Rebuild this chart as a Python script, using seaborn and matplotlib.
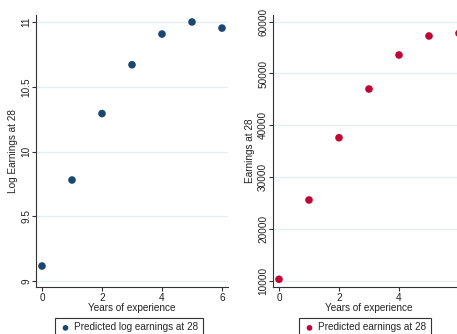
import matplotlib
matplotlib.use("Agg")
import matplotlib.pyplot as plt
import seaborn as sns
import pandas as pd

# Predicted values by years of experience
years = [0, 1, 2, 3, 4, 5, 6]
log_earnings = [9.116, 9.78, 10.293, 10.67, 10.907, 11.0, 10.953]
earnings = [10270, 25580, 37600, 47000, 53570, 57240, 57760]

x_ticks = [0, 2, 4, 6]
log_ticks = [9, 9.5, 10, 10.5, 11]
log_tick_labels = ["9", "9.5", "10", "10.5", "11"]
earn_ticks = [10000, 20000, 30000, 40000, 50000, 60000]
earn_tick_labels = ["10000", "20000", "30000", "40000", "50000", "60000"]

sns.set_theme(style="white")
plt.rcParams["font.family"] = ["Liberation Sans", "DejaVu Sans"]

W, H = 457, 334
FS = 7.2
fig = plt.figure(figsize=(W / 100, H / 100), dpi=100)
fig.patch.set_facecolor("white")

df = pd.DataFrame({"years": years, "log": log_earnings, "earn": earnings})


def px_axes(left, top, right, bottom):
    return fig.add_axes([left / W, 1 - bottom / H, (right - left) / W, (bottom - top) / H])


def style(ax, yticks, ylabels, ylim, ylabel):
    ax.set_xlim(-0.2, 6.2)
    ax.set_ylim(*ylim)
    ax.set_xticks(x_ticks)
    ax.set_xticklabels([str(t) for t in x_ticks], fontsize=FS)
    ax.set_yticks(yticks)
    ax.set_yticklabels(ylabels, fontsize=FS, rotation=90, va="center")
    for t in yticks:
        ax.axhline(t, color="#e3eef0", lw=0.9, zorder=0)
    for side in ("top", "right"):
        ax.spines[side].set_visible(False)
    for side in ("left", "bottom"):
        ax.spines[side].set_color("#333333")
        ax.spines[side].set_linewidth(0.8)
    ax.tick_params(axis="both", which="major", length=3, width=0.8, color="#333333",
                   labelcolor="#222222", bottom=True, left=True)
    ax.tick_params(axis="x", pad=1.5)
    ax.tick_params(axis="y", pad=0.5)
    ax.set_xlabel("Years of experience", fontsize=FS, labelpad=0, color="#222222")
    ax.set_ylabel(ylabel, fontsize=FS, color="#222222")
    ax.yaxis.set_label_coords(-0.095, 0.5)
    ax.set_facecolor("white")


ax1 = px_axes(36, 15, 228, 287)
sns.scatterplot(data=df, x="years", y="log", ax=ax1, color="#1a476f", s=30,
                edgecolor="none", label="Predicted log earnings at 28", zorder=3)
style(ax1, log_ticks, log_tick_labels, (8.954, 11.054), "Log Earnings at 28")

ax2 = px_axes(273, 15, 465, 287)
sns.scatterplot(data=df, x="years", y="earn", ax=ax2, color="#c10534", s=30,
                edgecolor="none", label="Predicted earnings at 28", zorder=3)
style(ax2, earn_ticks, earn_tick_labels, (8784, 61290), "Earnings at 28")

for ax, x0 in ((ax1, 55), (ax2, 299)):
    leg = ax.legend(loc="upper left", bbox_to_anchor=(x0 / W, 1 - 318 / H),
                    bbox_transform=fig.transFigure, fancybox=False, frameon=True,
                    edgecolor="#333333", framealpha=1, fontsize=FS, borderpad=0.45,
                    handletextpad=0.3, markerscale=0.75, borderaxespad=0,
                    handlelength=1.2)
    leg.get_frame().set_linewidth(0.8)

fig.savefig("out.png", dpi=100, facecolor="white")
